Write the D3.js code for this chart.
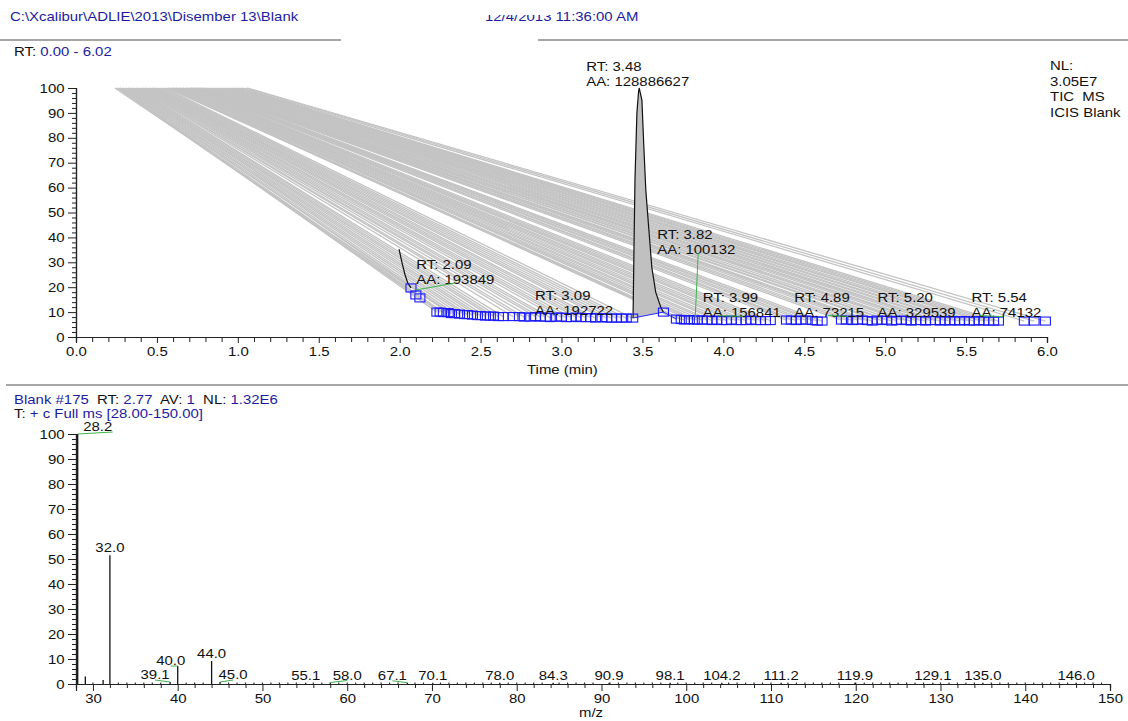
<!DOCTYPE html>
<html>
<head>
<meta charset="utf-8">
<script src="https://cdn.jsdelivr.net/npm/d3@7"></script>
<style>
  html, body { margin: 0; padding: 0; background: #fff; }
  svg { display: block; font-family: "Liberation Sans", Arial, sans-serif; }
</style>
</head>
<body>
<svg id="chart" width="1128" height="721"></svg>
<script>
// ---------- Chromatogram (TIC) data ----------
const tracePath = "C:\\Xcalibur\\ADLIE\\2013\\Disember 13\\Blank";
const acqDate = "12/4/2013 11:36:00 AM";

// short trace segment near 2.0 min (time, relative abundance)
const earlyTraceTime = [1.996, 2.014, 2.033, 2.050, 2.070];
const earlyTraceValue = [35.3, 30.0, 25.0, 21.7, 19.7];

// main peak outline (apex 3.48 min)
const peakTime = [3.442, 3.443, 3.448, 3.454, 3.466, 3.476, 3.480, 3.487, 3.497, 3.509, 3.521, 3.540, 3.558, 3.582, 3.613, 3.630];
const peakValue = [7.6, 12.0, 36.0, 63.0, 90.0, 98.4, 100.0, 98.0, 95.0, 76.0, 59.0, 43.0, 28.0, 18.0, 12.0, 9.8];

// ICIS integration markers along the baseline
const markerTime = [
  2.070, 2.100, 2.125,
  2.23, 2.25, 2.27, 2.30, 2.32, 2.34, 2.37, 2.40, 2.42, 2.45, 2.48, 2.50, 2.53, 2.56, 2.58, 2.61, 2.64, 2.70,
  2.74, 2.77, 2.81, 2.84, 2.87, 2.90, 2.93, 2.97, 3.00, 3.03, 3.06, 3.09, 3.12, 3.15, 3.18, 3.21, 3.25, 3.28,
  3.31, 3.34, 3.37, 3.40, 3.44,
  3.63,
  3.71, 3.74, 3.76, 3.79, 3.82, 3.84, 3.87, 3.90, 3.93, 3.96, 3.99, 4.02, 4.05, 4.08, 4.11, 4.14, 4.17, 4.20, 4.23, 4.26, 4.29,
  4.39, 4.42, 4.45, 4.48, 4.51, 4.55, 4.58, 4.61,
  4.73, 4.76, 4.80, 4.83, 4.86, 4.89, 4.92, 4.95, 4.98, 5.01, 5.04, 5.07, 5.10, 5.13, 5.16, 5.19, 5.22, 5.25,
  5.28, 5.31, 5.34, 5.37, 5.40, 5.43, 5.46, 5.49, 5.52, 5.55, 5.58, 5.61, 5.64, 5.67, 5.70,
  5.86, 5.92, 5.99
];
const markerValue = [
  19.7, 16.9, 15.7,
  10.0, 10.0, 9.8, 9.8, 9.4, 9.4, 9.2, 9.0, 9.0, 8.8, 8.6, 8.6, 8.4, 8.4, 8.4, 8.2, 8.2, 8.2,
  8.2, 8.0, 8.0, 8.2, 8.0, 8.0, 7.8, 8.0, 8.0, 7.8, 7.8, 8.0, 7.8, 7.8, 7.8, 7.6, 7.8, 7.6,
  7.6, 7.6, 7.6, 7.6, 7.6,
  10.0,
  7.2, 7.0, 6.8, 7.0, 6.8, 6.8, 6.8, 6.8, 6.6, 6.8, 6.6, 6.6, 6.8, 6.6, 6.6, 6.6, 6.8, 6.6, 6.6, 6.6, 6.6,
  6.8, 6.8, 6.6, 6.8, 6.8, 6.6, 6.4, 6.4,
  6.8, 6.8, 6.6, 6.8, 6.8, 6.6, 6.4, 6.8, 6.6, 6.8, 6.4, 6.6, 6.8, 6.6, 6.4, 6.6, 6.6, 6.4,
  6.6, 6.6, 6.4, 6.6, 6.4, 6.6, 6.4, 6.6, 6.4, 6.4, 6.6, 6.4, 6.4, 6.4, 6.4,
  6.4, 6.4, 6.4
];
// each filled area is drawn as a sweep from the 100 % line (start time) down to its marker
const fanStart = [
  0.24, 0.25, 0.26,
  0.27, 0.27, 0.28, 0.29, 0.29, 0.30, 0.31, 0.31, 0.32, 0.33, 0.33, 0.34, 0.35, 0.35, 0.36, 0.37, 0.37, 0.38,
  0.39, 0.39, 0.40, 0.41, 0.41, 0.42, 0.43, 0.43, 0.44, 0.45, 0.45, 0.46, 0.47, 0.47, 0.48, 0.49, 0.49, 0.50,
  0.51, 0.52, 0.53, 0.54, 0.55,
  0.56,
  0.57, 0.57, 0.58, 0.59, 0.59, 0.60, 0.60, 0.61, 0.62, 0.62, 0.63, 0.64, 0.64, 0.65, 0.66, 0.66, 0.67, 0.68, 0.68, 0.69, 0.70,
  0.70, 0.71, 0.71, 0.72, 0.72, 0.73, 0.73, 0.74,
  0.74, 0.75, 0.75, 0.76, 0.76, 0.77, 0.77, 0.78, 0.78, 0.79, 0.80, 0.81, 0.82, 0.83, 0.84, 0.85, 0.86, 0.87,
  0.88, 0.89, 0.90, 0.91, 0.92, 0.93, 0.94, 0.95, 0.96, 0.97, 0.98, 0.99, 1.00, 1.01, 1.02,
  1.03, 1.05, 1.06
];

// peak annotations
const peakLabels = [
  { rt: "3.48", aa: "128886627" },
  { rt: "2.09", aa: "193849" },
  { rt: "3.09", aa: "192722" },
  { rt: "3.82", aa: "100132" },
  { rt: "3.99", aa: "156841" },
  { rt: "4.89", aa: "73215" },
  { rt: "5.20", aa: "329539" },
  { rt: "5.54", aa: "74132" }
];
const timeTicks = [0.0, 0.5, 1.0, 1.5, 2.0, 2.5, 3.0, 3.5, 4.0, 4.5, 5.0, 5.5, 6.0];
const abundanceTicks = [0, 10, 20, 30, 40, 50, 60, 70, 80, 90, 100];

// ---------- Mass spectrum data (scan #175) ----------
const specMz = [28.2, 29.1, 31.2, 32.0, 39.1, 40.0, 44.0, 45.0, 55.1, 58.0, 67.1, 70.1, 78.0, 84.3, 90.9, 98.1, 104.2, 111.2, 119.9, 129.1, 135.0, 146.0];
const specIntensity = [100, 3.0, 1.6, 51.5, 0.8, 7.2, 9.2, 0.8, 0.5, 0.6, 0.5, 0.5, 0.5, 0.5, 0.5, 0.5, 0.5, 0.5, 0.5, 0.5, 0.5, 0.5];
const noiseMz = [30, 33, 34, 35, 36, 37, 38, 41, 42, 43, 46, 47, 48, 49, 50, 51, 52, 53, 54, 56, 57, 59, 60, 61, 62, 63, 64, 65, 66,
  68, 69, 71, 72, 73, 74, 75, 76, 77, 79, 80, 81, 82, 83, 85, 86, 87, 88, 89, 91, 92, 93, 94, 95, 96, 97, 99, 100, 101, 102, 103,
  105, 106, 107, 108, 109, 110, 112, 113, 114, 115, 116, 117, 118, 120, 121, 122, 123, 124, 125, 126, 127, 128, 130, 131, 132,
  133, 134, 136, 137, 138, 139, 140, 141, 142, 143, 144, 145, 147, 148, 149];
const noiseIntensity = 0.6;
const mzTicks = [30, 40, 50, 60, 70, 80, 90, 100, 110, 120, 130, 140, 150];

// ---------- drawing ----------
const svg = d3.select("#chart");
const FONT = 13;      // glyph height
const SX = 1.15;      // the report font is set slightly wide
const BLUE_TXT = "#1c1ca0";
const INK = "#111";

function label(x, y, s, opts = {}) {
  const t = svg.append("text")
    .attr("transform", `translate(${x},${y}) scale(${SX},1)`)
    .attr("font-size", FONT).attr("fill", opts.fill || INK)
    .attr("text-anchor", opts.anchor || "start")
    .attr("xml:space", "preserve").text(s);
  return t;
}
function mixedText(x, y, parts) {
  const t = svg.append("text")
    .attr("transform", `translate(${x},${y}) scale(${SX},1)`)
    .attr("font-size", FONT).attr("xml:space", "preserve");
  parts.forEach(p => t.append("tspan").attr("fill", p[1] ? BLUE_TXT : INK).text(p[0]));
  return t;
}

// header
label(10, 21, tracePath, { fill: BLUE_TXT });
label(485, 21, acqDate, { fill: BLUE_TXT });
svg.append("rect").attr("x", 483).attr("y", 5).attr("width", 70).attr("height", 10).attr("fill", "#fff");
svg.append("line").attr("x1", 0).attr("x2", 341).attr("y1", 40).attr("y2", 40).attr("stroke", "#888").attr("stroke-width", 1.5);
svg.append("line").attr("x1", 538).attr("x2", 1128).attr("y1", 40).attr("y2", 40).attr("stroke", "#888").attr("stroke-width", 1.5);
mixedText(14, 56, [["RT: ", false], ["0.00 - 6.02", true]]);

// ----- chromatogram panel -----
const x = d3.scaleLinear().domain([0, 6]).range([76, 1047]);
const y = d3.scaleLinear().domain([0, 100]).range([337, 88]);

const fanG = svg.append("g");
markerTime.forEach((t, i) => {
  fanG.append("line")
    .attr("x1", x(fanStart[i])).attr("y1", y(100))
    .attr("x2", x(t)).attr("y2", y(markerValue[i]))
    .attr("stroke", "#c3c3c3").attr("stroke-width", 1.3);
});

// main peak fill + outline
const peakPts = peakTime.map((t, i) => [x(t), y(peakValue[i])]);
svg.append("path")
  .attr("d", d3.line()(peakPts) + "Z")
  .attr("fill", "#c0c0c0").attr("stroke", "none");
svg.append("path")
  .attr("d", d3.line()(peakPts))
  .attr("fill", "none").attr("stroke", "#111").attr("stroke-width", 1.2);
svg.append("path")
  .attr("d", d3.line()(earlyTraceTime.map((t, i) => [x(t), y(earlyTraceValue[i])])))
  .attr("fill", "none").attr("stroke", "#111").attr("stroke-width", 1.2);

// baseline connecting markers
const iStart = markerTime.indexOf(3.44), iEnd = markerTime.indexOf(3.71);
svg.append("path")
  .attr("d", d3.line()([iStart, iStart + 1, iEnd].map(i => [x(markerTime[i]), y(markerValue[i])])))
  .attr("fill", "none").attr("stroke", "#2a2aff").attr("stroke-width", 1);

// ICIS markers
svg.append("g").selectAll("rect").data(markerTime).join("rect")
  .attr("x", (t) => x(t) - 5)
  .attr("y", (t, i) => y(markerValue[i]) - 4)
  .attr("width", 10).attr("height", 8)
  .attr("fill", "none").attr("stroke", "#1a1aff").attr("stroke-width", 1.1);

// axes
const minorAbund = [];
for (let v = 0; v <= 100; v += 2) if (v % 10) minorAbund.push(v);
svg.append("g").attr("transform", `translate(${x(0)},0)`)
  .call(d3.axisLeft(y).tickValues(abundanceTicks).tickSize(8).tickPadding(2).tickFormat(d3.format("d")));
svg.append("g").attr("transform", `translate(${x(0)},0)`)
  .call(d3.axisLeft(y).tickValues(minorAbund).tickSize(4).tickFormat(""));
svg.append("g").attr("transform", `translate(0,${y(0)})`)
  .call(d3.axisBottom(x).tickValues(timeTicks).tickSize(6).tickPadding(4).tickFormat(d3.format(".1f")));
const minorTime = [];
for (let k = 0; k <= 60; k++) if (k % 5) minorTime.push(k / 10);
svg.append("g").attr("transform", `translate(0,${y(0)})`)
  .call(d3.axisBottom(x).tickValues(minorTime).tickSize(5).tickFormat(""));

label(527, 374, "Time (min)");

// peak labels
const labelPos = {
  "3.48": [x(3.48) - 53, y(100) - 17],
  "2.09": [x(2.09) + 2, y(27.3)],
  "3.09": [x(3.09) - 41, y(14.8)],
  "3.82": [x(3.82) - 37, y(39.4)],
  "3.99": [x(3.99) - 19, y(14.0)],
  "4.89": [x(4.89) - 73, y(14.0)],
  "5.20": [x(5.20) - 40, y(14.0)],
  "5.54": [x(5.54) - 1, y(14.0)]
};
peakLabels.forEach(p => {
  const [lx, ly] = labelPos[p.rt];
  label(lx, ly, "RT: " + p.rt);
  label(lx, ly + 15, "AA: " + p.aa);
});
// annotation leaders
const GREEN = "#3cb44b";
const leaders = [
  ["2.09", x(2.09) + 2, y(19.7) + 2, 455, 283],
  ["3.82", x(3.82) + 4, y(33.7), x(3.82) + 1, y(7.6)],
  ["3.99", 717, y(8.6), 743, y(8.3)],
  ["4.89", 828, y(8.6), 848, y(8.3)],
  ["5.54", 980, y(8.6), 1003, y(8.2)]
];
leaders.forEach(l => svg.append("line").attr("x1", l[1]).attr("y1", l[2]).attr("x2", l[3]).attr("y2", l[4])
  .attr("stroke", GREEN).attr("stroke-width", 1));

// right-side info
["NL:", "3.05E7", "TIC  MS", "ICIS Blank"].forEach((s, i) => label(1050, 70 + i * 15.5, s));

// separator
svg.append("line").attr("x1", 6).attr("x2", 1128).attr("y1", 385).attr("y2", 385).attr("stroke", "#888").attr("stroke-width", 1.5);

// ----- spectrum panel -----
mixedText(14, 404, [["Blank #175", true], ["  RT: ", false], ["2.77", true], ["  AV: ", false], ["1", true], ["  NL: ", false], ["1.32E6", true]]);
mixedText(14, 418, [["T: ", false], ["+ c Full ms [28.00-150.00]", true]]);

const x2 = d3.scaleLinear().domain([28, 150]).range([76, 1110]);
const y2 = d3.scaleLinear().domain([0, 100]).range([684, 434]);

svg.append("g").selectAll("line").data(noiseMz).join("line")
  .attr("x1", d => x2(d)).attr("x2", d => x2(d))
  .attr("y1", y2(0)).attr("y2", y2(noiseIntensity))
  .attr("stroke", "#333").attr("stroke-width", 1.2);
svg.append("g").selectAll("line").data(specMz).join("line")
  .attr("x1", d => x2(d)).attr("x2", d => x2(d))
  .attr("y1", y2(0)).attr("y2", (d, i) => y2(specIntensity[i]))
  .attr("stroke", "#111").attr("stroke-width", 1.3);

svg.append("g").attr("transform", `translate(${x2(28)},0)`)
  .call(d3.axisLeft(y2).tickValues(abundanceTicks).tickSize(8).tickPadding(2).tickFormat(d3.format("d")));
svg.append("g").attr("transform", `translate(${x2(28)},0)`)
  .call(d3.axisLeft(y2).tickValues(minorAbund).tickSize(4).tickFormat(""));
svg.append("g").attr("transform", `translate(0,${y2(0)})`)
  .call(d3.axisBottom(x2).tickValues(mzTicks).tickSize(7).tickPadding(3).tickFormat(d3.format("d")));
const minorMz = [28];
for (let m = 30; m <= 150; m += 2) if (m % 10) minorMz.push(m);
svg.append("g").attr("transform", `translate(0,${y2(0)})`)
  .call(d3.axisBottom(x2).tickValues(minorMz).tickSize(4).tickFormat(""));
label(579, 717, "m/z");

// spectrum labels (horizontal shift where a label is pulled aside, with a green leader)
const specLabelShift = { "28.2": [20, 0], "39.1": [-15, 0], "40.0": [-7, 2], "45.0": [13, 0], "58.0": [17, 0], "67.1": [-15, 0] };
specMz.forEach((m, i) => {
  if (m === 29.1 || m === 31.2) return;
  const txt = m.toFixed(1);
  const sh = specLabelShift[txt] || [0, 0];
  const px = x2(m), py = y2(specIntensity[i]);
  const lx = px + sh[0], ly = py - 3 + sh[1];
  label(lx, ly, txt, { anchor: "middle" });
  if (sh[0] !== 0) {
    const ex = txt === "28.2" ? lx + 15 : lx;
    svg.append("line").attr("x1", px).attr("y1", py).attr("x2", ex).attr("y2", ly + 1)
      .attr("stroke", GREEN).attr("stroke-width", 1);
  }
});

// axis styling
svg.selectAll(".domain").attr("stroke", "#222").attr("stroke-width", 1.2);
svg.selectAll(".tick line").attr("stroke", "#222");
svg.selectAll(".tick text")
  .attr("font-size", FONT).attr("fill", INK)
  .attr("font-family", "Liberation Sans, Arial, sans-serif")
  .attr("transform", `scale(${SX},1)`);
</script>
</body>
</html>
